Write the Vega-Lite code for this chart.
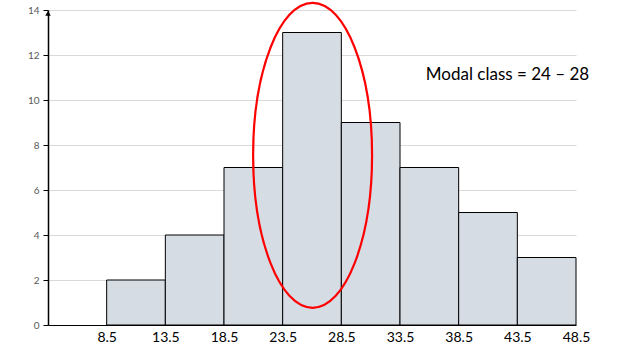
{
  "$schema": "https://vega.github.io/schema/vega-lite/v6.json",
  "width": 528,
  "height": 315,
  "autosize": {"type": "none"},
  "padding": {"left": 48, "top": 10, "right": 51, "bottom": 27},
  "background": "white",
  "config": {"view": {"stroke": null}},
  "datasets": {
    "bars": [
      {"start": 8.5, "end": 13.5, "freq": 2},
      {"start": 13.5, "end": 18.5, "freq": 4},
      {"start": 18.5, "end": 23.5, "freq": 7},
      {"start": 23.5, "end": 28.5, "freq": 13},
      {"start": 28.5, "end": 33.5, "freq": 9},
      {"start": 33.5, "end": 38.5, "freq": 7},
      {"start": 38.5, "end": 43.5, "freq": 5},
      {"start": 43.5, "end": 48.5, "freq": 3}
    ],
    "ring": [{"cx": 26.05, "cy": 7.54}],
    "note": [{"tx": 35.7, "ty": 11.1, "label": "Modal class = 24 – 28"}],
    "arrow": [{"ax": 3.5, "ay": 13.85}]
  },
  "layer": [
    {
      "data": {"name": "bars"},
      "mark": {"type": "rect", "fill": "#d6dce4", "stroke": "black", "strokeWidth": 1},
      "encoding": {
        "x": {
          "field": "start", "type": "quantitative",
          "scale": {"domain": [3.5, 48.5], "nice": false, "zero": false},
          "axis": {
            "title": null, "values": [8.5, 13.5, 18.5, 23.5, 28.5, 33.5, 38.5, 43.5, 48.5],
            "format": ".1f",
            "grid": false, "ticks": false, "domainColor": "black", "domainWidth": 1.2,
            "labelFont": "Lato", "labelFontSize": 14, "labelColor": "#000000",
            "labelPadding": 5, "labelFlush": false
          }
        },
        "x2": {"field": "end"},
        "y": {
          "field": "freq", "type": "quantitative",
          "scale": {"domain": [0, 14], "nice": false},
          "axis": {
            "title": null, "values": [0, 2, 4, 6, 8, 10, 12, 14],
            "grid": true, "gridColor": "#d9d9d9", "gridWidth": 1,
            "tickColor": "black", "tickSize": 5, "domainColor": "black", "domainWidth": 1.5,
            "labelFont": "Lato", "labelFontSize": 10, "labelColor": "#595959",
            "labelPadding": 4
          }
        },
        "y2": {"datum": 0}
      }
    },
    {
      "data": {"name": "arrow"},
      "mark": {"type": "point", "shape": "triangle-up", "filled": true, "color": "black", "size": 30, "opacity": 1},
      "encoding": {
        "x": {"field": "ax", "type": "quantitative"},
        "y": {"field": "ay", "type": "quantitative"}
      }
    },
    {
      "data": {"name": "ring"},
      "mark": {
        "type": "point",
        "shape": "M 0,-1 C 0.2154,-1 0.39,-0.5523 0.39,0 C 0.39,0.5523 0.2154,1 0,1 C -0.2154,1 -0.39,0.5523 -0.39,0 C -0.39,-0.5523 -0.2154,-1 0,-1 Z",
        "filled": false, "stroke": "#ff0000", "strokeWidth": 2.2, "size": 93025, "opacity": 1
      },
      "encoding": {
        "x": {"field": "cx", "type": "quantitative"},
        "y": {"field": "cy", "type": "quantitative"}
      }
    },
    {
      "data": {"name": "note"},
      "mark": {"type": "text", "align": "left", "baseline": "middle", "font": "Lato", "fontSize": 17, "color": "black"},
      "encoding": {
        "x": {"field": "tx", "type": "quantitative"},
        "y": {"field": "ty", "type": "quantitative"},
        "text": {"field": "label"}
      }
    }
  ]
}
